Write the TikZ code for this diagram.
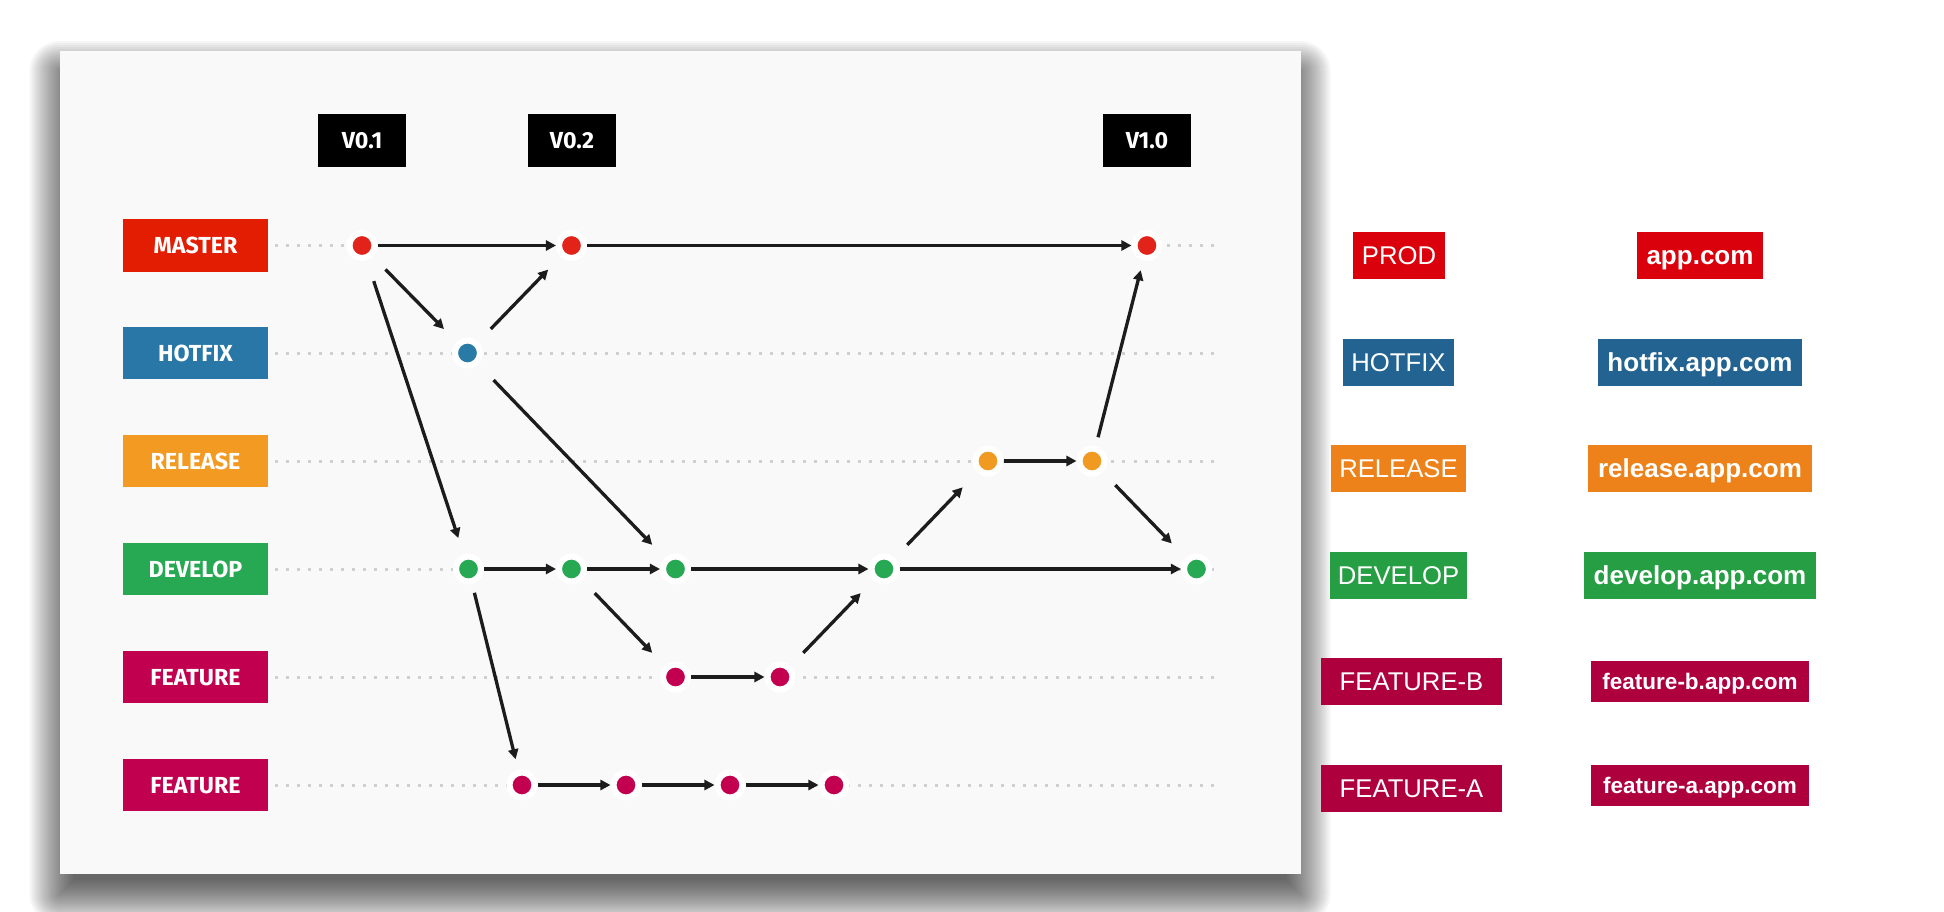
\documentclass[tikz,border=0pt]{standalone}
\usepackage{fontspec}
\setmainfont{Liberation Sans}
\newfontfamily\lblfont{Fira Sans}
\usetikzlibrary{arrows.meta}
\definecolor{cardbg}{HTML}{F9F9F9}
\definecolor{guidec}{HTML}{CFCFCF}
\definecolor{arrc}{HTML}{1C1C1C}
\definecolor{cMaster}{HTML}{E31D02}
\definecolor{cHotfix}{HTML}{2877A6}
\definecolor{cRelease}{HTML}{F29A22}
\definecolor{cDevelop}{HTML}{27A853}
\definecolor{cFeature}{HTML}{C1004F}
\definecolor{dRed}{HTML}{E2231A}
\definecolor{dBlue}{HTML}{2A7AA8}
\definecolor{dOrange}{HTML}{F09A22}
\definecolor{dGreen}{HTML}{27A852}
\definecolor{dCrimson}{HTML}{C2004F}
\definecolor{rProd}{HTML}{DA000C}
\definecolor{rHotfix}{HTML}{226391}
\definecolor{rRelease}{HTML}{EC8219}
\definecolor{rDevelop}{HTML}{269E44}
\definecolor{rFeature}{HTML}{AE003D}
\tikzset{
  lbox/.style={inner sep=0pt, minimum width=1.45cm, minimum height=0.52cm,
    text=white, font=\lblfont\bfseries\fontsize{6.6pt}{7pt}\selectfont,
    text height=0.16cm, text depth=0pt},
  vbox/.style={fill=black, inner sep=0pt, minimum width=0.87cm, minimum height=0.53cm,
    text=white, font=\lblfont\bfseries\fontsize{6.6pt}{7pt}\selectfont,
    text height=0.16cm, text depth=0pt},
  rbox/.style={inner sep=0pt, minimum height=0.47cm, text=white,
    font=\fontsize{7.3pt}{8pt}\selectfont, text height=0.185cm, text depth=0pt},
  rboxb/.style={rbox, font=\bfseries\fontsize{7.4pt}{8pt}\selectfont},
  rboxs/.style={rbox, minimum height=0.41cm, font=\bfseries\fontsize{6.4pt}{7pt}\selectfont, text height=0.16cm},
  commit/.style={circle, fill=#1, draw=white, line width=0.06cm, minimum size=0.25cm, inner sep=0pt},
  guide/.style={guidec, line width=0.03cm, dash pattern=on 0.03cm off 0.08cm},
  arr/.style={arrc, line width=0.033cm, -{Triangle[length=0.1cm,width=0.1cm]}},
  diag/.style={arr, shorten <=0.18cm, shorten >=0.18cm},
}
\begin{document}
\begin{tikzpicture}[x=0.01cm,y=-0.01cm]
\useasboundingbox (0,0) rectangle (1944,912);
\fill[white] (0,0) rectangle (1944,912);
% card shadow (layered blur)
\foreach \e in {-14,-12,...,30} {
  \pgfmathsetmacro\rr{max(\e,0.1)*0.01}
  \fill[black,opacity=0.035,rounded corners=\rr cm] ({59.5-\e},{71-\e}) rectangle ({1300.5+\e},{894+\e});
}
% card
\fill[cardbg] (59.5,51) rectangle (1300.5,874);
% guide lines
\foreach \n/\y in {1/245.5,2/353,3/461,4/569,5/677,6/785} {
  \coordinate (gs\n) at (275,\y);
  \coordinate (ge\n) at (1221,\y);
  \draw[guide] (gs\n) -- (ge\n);
}
% left labels
\node[lbox, fill=cMaster]  (Lmaster)  at (195.5,245.5) {MASTER};
\node[lbox, fill=cHotfix]  (Lhotfix)  at (195.5,353) {HOTFIX};
\node[lbox, fill=cRelease] (Lrelease) at (195.5,461) {RELEASE};
\node[lbox, fill=cDevelop] (Ldevelop) at (195.5,569) {DEVELOP};
\node[lbox, fill=cFeature] (Lfeatb)   at (195.5,677) {FEATURE};
\node[lbox, fill=cFeature] (Lfeata)   at (195.5,785) {FEATURE};
% versions
\node[vbox] (v01) at (362,140.5) {V0.1};
\node[vbox] (v02) at (572,140.5) {V0.2};
\node[vbox, minimum width=0.88cm] (v10) at (1147,140.5) {V1.0};
% commits
\node[commit=dRed] (m1) at (362,245.5) {};
\node[commit=dRed] (m2) at (571.5,245.5) {};
\node[commit=dRed] (m3) at (1147,245.5) {};
\node[commit=dBlue] (h1) at (467.5,353) {};
\node[commit=dOrange] (r1) at (988,461) {};
\node[commit=dOrange] (r2) at (1092,461) {};
\node[commit=dGreen] (d1) at (468.5,569) {};
\node[commit=dGreen] (d2) at (571.5,569) {};
\node[commit=dGreen] (d3) at (675.5,569) {};
\node[commit=dGreen] (d4) at (884,569) {};
\node[commit=dGreen] (d5) at (1196.5,569) {};
\node[commit=dCrimson] (b1) at (675.5,677) {};
\node[commit=dCrimson] (b2) at (780,677) {};
\node[commit=dCrimson] (a1) at (522,785) {};
\node[commit=dCrimson] (a2) at (626,785) {};
\node[commit=dCrimson] (a3) at (730,785) {};
\node[commit=dCrimson] (a4) at (834,785) {};
% connectors
\draw[arr] (m1) -- (m2);
\draw[arr] (m2) -- (m3);
\draw[diag] (m1) -- (h1);
\draw[diag] (h1) -- (m2);
\draw[diag, shorten <=0.22cm, shorten >=0.17cm] (m1) -- (d1);
\draw[diag, shorten <=0.22cm] (h1) -- (d3);
\draw[arr] (d1) -- (d2);
\draw[arr] (d2) -- (d3);
\draw[arr] (d3) -- (d4);
\draw[arr] (d4) -- (d5);
\draw[diag] (d2) -- (b1);
\draw[arr] (b1) -- (b2);
\draw[diag] (b2) -- (d4);
\draw[diag, shorten <=0.09cm, shorten >=0.11cm] (d1) -- (a1);
\draw[arr] (a1) -- (a2);
\draw[arr] (a2) -- (a3);
\draw[arr] (a3) -- (a4);
\draw[diag, shorten >=0.21cm] (d4) -- (r1);
\draw[arr] (r1) -- (r2);
\draw[diag, shorten <=0.09cm, shorten >=0.1cm] (r2) -- (m3);
\draw[diag, shorten >=0.2cm] (r2) -- (d5);
% right labels
\node[rbox, fill=rProd, minimum width=0.92cm]    (Rprod)    at (1399,255.5) {PROD};
\node[rboxb, fill=rProd, minimum width=1.26cm]   (Uprod)    at (1700,255.5) {app.com};
\node[rbox, fill=rHotfix, minimum width=1.11cm]  (Rhotfix)  at (1398.5,362.5) {HOTFIX};
\node[rboxb, fill=rHotfix, minimum width=2.04cm] (Uhotfix)  at (1700,362.5) {hotfix.app.com};
\node[rbox, fill=rRelease, minimum width=1.35cm] (Rrelease) at (1398.5,468.5) {RELEASE};
\node[rboxb, fill=rRelease, minimum width=2.24cm] (Urelease) at (1700,468.5) {release.app.com};
\node[rbox, fill=rDevelop, minimum width=1.37cm] (Rdevelop) at (1398.5,575.5) {DEVELOP};
\node[rboxb, fill=rDevelop, minimum width=2.32cm] (Udevelop) at (1700,575.5) {develop.app.com};
\node[rbox, fill=rFeature, minimum width=1.81cm] (Rfeatb)   at (1411.5,681.5) {FEATURE-B};
\node[rboxs, fill=rFeature, minimum width=2.18cm] (Ufeatb)  at (1700,681.5) {feature-b.app.com};
\node[rbox, fill=rFeature, minimum width=1.81cm] (Rfeata)   at (1411.5,788.5) {FEATURE-A};
\node[rboxs, fill=rFeature, minimum width=2.18cm] (Ufeata)  at (1700,785.5) {feature-a.app.com};
\end{tikzpicture}
\end{document}
